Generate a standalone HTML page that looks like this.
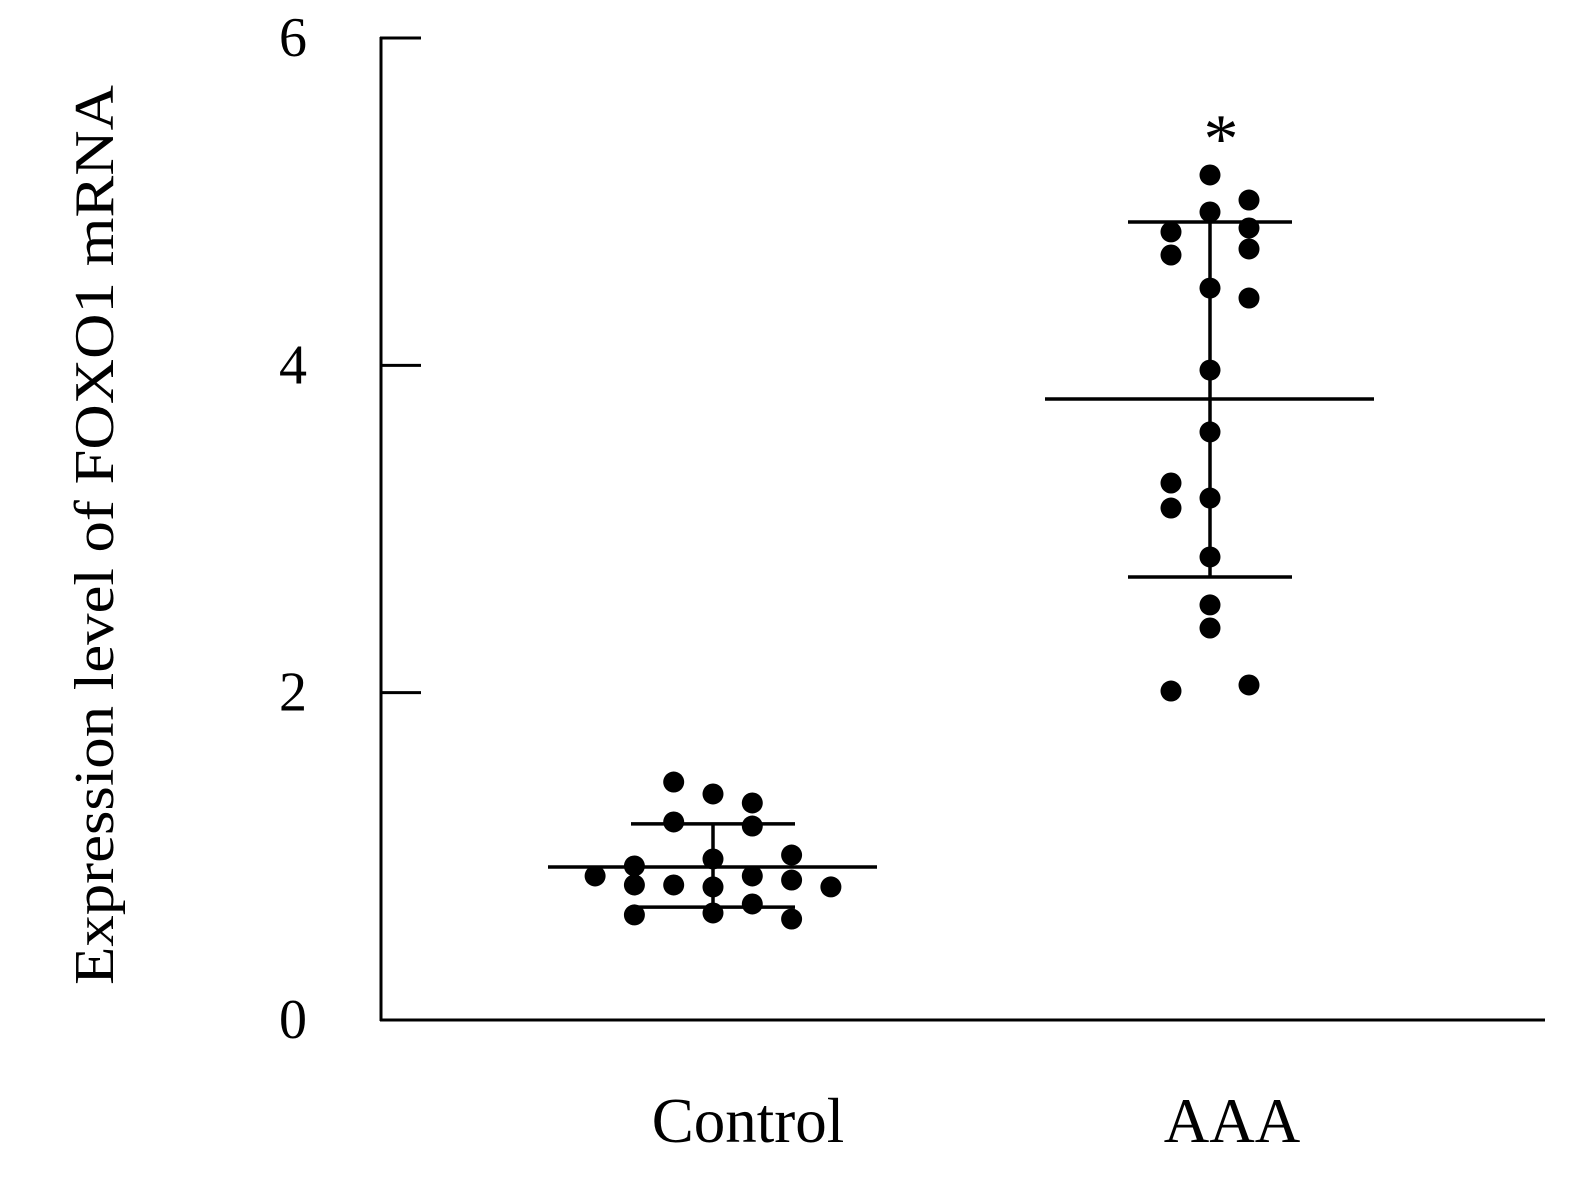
<!DOCTYPE html>
<html><head><meta charset="utf-8"><style>
body{margin:0;background:#fff;}
svg text{font-family:"Liberation Serif",serif;fill:#000;}
</style></head><body>
<svg width="1570" height="1189" id="chart">
<text x="100" y="535" font-size="56" text-anchor="middle" dominant-baseline="middle" textLength="900" lengthAdjust="spacingAndGlyphs" transform="rotate(-90 100 535)">Expression level of FOXO1 mRNA</text>
<g id="axes"></g>
<g id="marks"></g>
</svg>
<script>
const categories = ["Control", "AAA"];
const controlValues = [1.454,1.381,1.326,1.210,1.185,0.984,0.941,1.008,0.880,0.880,0.855,0.825,0.825,0.813,0.813,0.709,0.642,0.654,0.617];
const controlCols = [-1,0,1,-1,1,0,-2,2,-3,1,2,-2,-1,0,3,1,-2,0,2];
const aaaValues = [5.163,5.010,4.937,4.815,4.839,4.711,4.674,4.472,4.411,3.971,3.593,3.281,3.128,3.189,2.829,2.536,2.395,2.010,2.047];
const aaaCols = [0,1,0,-1,1,1,-1,0,1,0,0,-1,-1,0,0,0,0,-1,1];
const means = [0.935, 3.794];
const sdUpper = [1.198, 4.876];
const sdLower = [0.690, 2.707];
const yTicks = [0, 2, 4, 6];

const NS = "http://www.w3.org/2000/svg";
const y = v => 1020 - v * 163.67;
const cx = [713, 1210];
const colW = [39.3, 39];
function mk(tag, attrs, parent){const e=document.createElementNS(NS,tag);for(const k in attrs)e.setAttribute(k,attrs[k]);parent.appendChild(e);return e;}
const axes=document.getElementById('axes'), marks=document.getElementById('marks');
let e=mk('line',{x1:381,y1:37,x2:381,y2:1021,stroke:'#000','stroke-width':3},axes);


e=mk('line',{x1:380,y1:1020,x2:1545,y2:1020,stroke:'#000','stroke-width':3},axes);


yTicks.forEach(t=>{
 let l=mk('line',{x1:380,y1:y(t),x2:421,y2:y(t),stroke:'#000','stroke-width':3},axes);
 
 
 let tx=mk('text',{x:293,y:y(t)+18,'font-size':56,'text-anchor':'middle'},axes);
 tx.textContent=t;
 
 
});
categories.forEach((c,i)=>{
 let tx=mk('text',{x:i?1232:748,y:1142,'font-size':63,'text-anchor':'middle'},axes);
 tx.textContent=c;
 
 
});
[[controlValues,controlCols],[aaaValues,aaaCols]].forEach(([vals,cols],g)=>{
 vals.forEach((v,i)=>{
  let d=mk('circle',{cx:cx[g]+cols[i]*colW[g],cy:y(v),r:10.5,fill:'#000'},marks);
  
  
 });
 let m=mk('line',{x1:cx[g]-165,x2:cx[g]+164,y1:y(means[g]),y2:y(means[g]),stroke:'#000','stroke-width':3.5},marks);
 
 
 [sdUpper[g],sdLower[g]].forEach(s=>{
  let l=mk('line',{x1:cx[g]-82,x2:cx[g]+82,y1:y(s),y2:y(s),stroke:'#000','stroke-width':3.5},marks);
  
  
 });
 let v=mk('line',{x1:cx[g],x2:cx[g],y1:y(sdUpper[g]),y2:y(sdLower[g]),stroke:'#000','stroke-width':3.5},marks);
 
 
});
let st=mk('text',{x:1221,y:162,'font-size':70,'text-anchor':'middle'},marks);
st.textContent='*';


</script>
</body></html>
